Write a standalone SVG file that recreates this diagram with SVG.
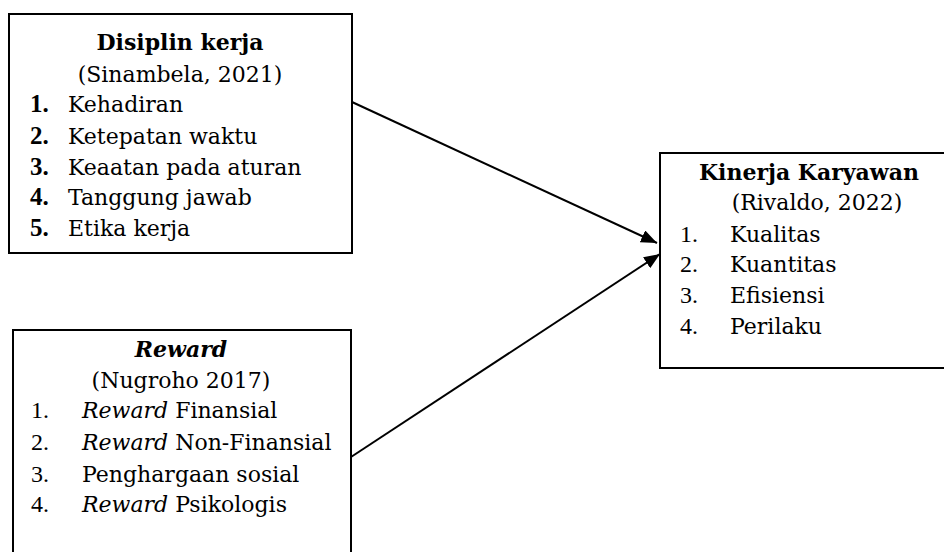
<svg xmlns="http://www.w3.org/2000/svg" width="944" height="552" viewBox="0 0 944 552">
<defs>
<style>
.box{fill:#fff;stroke:#000;stroke-width:2}
.t{font-family:"DejaVu Serif","Liberation Serif",serif;font-size:22px;fill:#000}
.b{font-weight:bold}
.i{font-style:italic}
.c{text-anchor:middle}
.n{font-family:"Liberation Serif","DejaVu Serif",serif;font-size:24px;fill:#000}
.nb{font-family:"Liberation Serif","DejaVu Serif",serif;font-size:25px;font-weight:bold;fill:#000}
.conn{stroke:#000;stroke-width:2;fill:none}
</style>
<marker id="ah" markerUnits="userSpaceOnUse" markerWidth="17" markerHeight="13" refX="16" refY="6.5" orient="auto">
<path d="M0,0 L16,6.5 L0,13 z" fill="#000"/>
</marker>
</defs>
<rect width="944" height="552" fill="#fff"/>
<g id="disiplin">
<rect class="box" x="9" y="14" width="343" height="239"/>
<text class="t b c" x="180" y="50">Disiplin kerja</text>
<text class="t c" x="180" y="82">(Sinambela, 2021)</text>
<text class="nb" x="30" y="112">1.</text><text class="t" x="68" y="112">Kehadiran</text>
<text class="nb" x="30" y="144">2.</text><text class="t" x="68" y="144">Ketepatan waktu</text>
<text class="nb" x="30" y="175">3.</text><text class="t" x="68" y="175">Keaatan pada aturan</text>
<text class="nb" x="30" y="205">4.</text><text class="t" x="68" y="205">Tanggung jawab</text>
<text class="nb" x="30" y="236">5.</text><text class="t" x="68" y="236">Etika kerja</text>
</g>
<g id="reward">
<rect class="box" x="13" y="330" width="338" height="240"/>
<text class="t b i c" x="181" y="357">Reward</text>
<text class="t c" x="181" y="388">(Nugroho 2017)</text>
<text class="n" x="31" y="418">1.</text><text class="t" x="82" y="418"><tspan class="i">Reward</tspan> Finansial</text>
<text class="n" x="31" y="450">2.</text><text class="t" x="82" y="450"><tspan class="i">Reward</tspan> Non-Finansial</text>
<text class="n" x="31" y="482">3.</text><text class="t" x="82" y="482">Penghargaan sosial</text>
<text class="n" x="31" y="512">4.</text><text class="t" x="82" y="512"><tspan class="i">Reward</tspan> Psikologis</text>
</g>
<g id="kinerja">
<rect class="box" x="660" y="153" width="300" height="215"/>
<text class="t b c" x="809" y="180">Kinerja Karyawan</text>
<text class="t c" x="817" y="210">(Rivaldo, 2022)</text>
<text class="n" x="680" y="242">1.</text><text class="t" x="730" y="242">Kualitas</text>
<text class="n" x="680" y="272">2.</text><text class="t" x="730" y="272">Kuantitas</text>
<text class="n" x="680" y="303">3.</text><text class="t" x="730" y="303">Efisiensi</text>
<text class="n" x="680" y="334">4.</text><text class="t" x="730" y="334">Perilaku</text>
</g>
<g id="connectors">
<line class="conn" x1="352" y1="102" x2="657" y2="243" marker-end="url(#ah)"/>
<line class="conn" x1="351" y1="457" x2="660" y2="254" marker-end="url(#ah)"/>
</g>
</svg>
